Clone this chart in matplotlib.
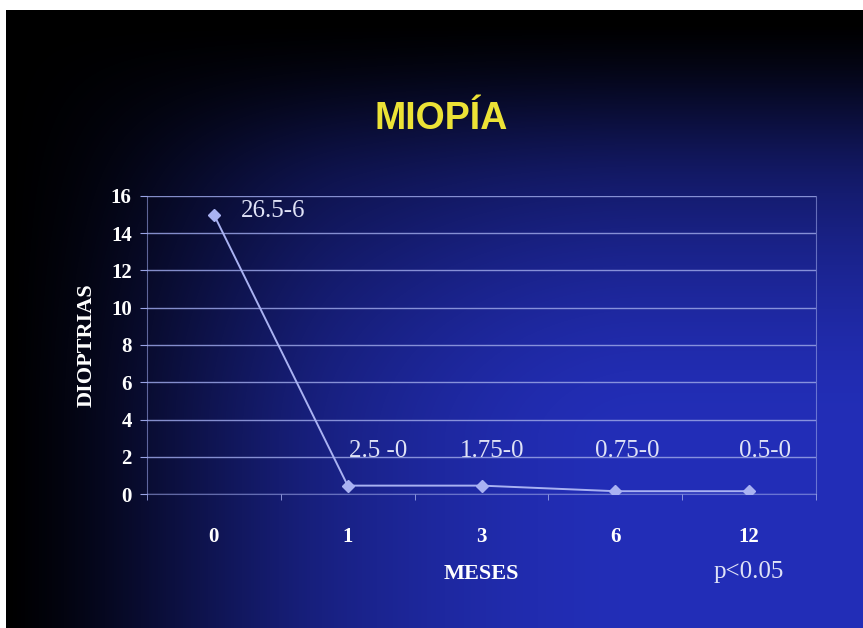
import numpy as np
import matplotlib.pyplot as plt

meses = ['0', '1', '3', '6', '12']
dioptrias = [15.0, 0.45, 0.45, 0.15, 0.15]
rangos = ['26.5-6', '2.5 -0', '1.75-0', '0.75-0', '0.5-0']
yticks = [0, 2, 4, 6, 8, 10, 12, 14, 16]


def smooth(v, a, b):
    s = np.clip((v - a) / (b - a), 0, 1)
    return s * s * (3 - 2 * s)


fig = plt.figure(figsize=(8.63, 6.28), dpi=100)
fig.patch.set_facecolor('white')

# slide background: black top-left fading to blue bottom-right
bg = fig.add_axes([6 / 863, 0, 857 / 863, 618 / 628])
h, w = 300, 420
yy, xx = np.mgrid[0:1:h * 1j, 0:1:w * 1j]
t = smooth(xx, 0.0, 0.75) * smooth(yy, 0.02, 0.7)
t = 0.15 * smooth(xx, 0.05, 0.4) * smooth(yy, 0.05, 0.3) + 0.85 * t ** 0.6
blue = np.array([0.135, 0.18, 0.72])
img = t[..., None] * blue
bg.imshow(img, aspect='auto', extent=[0, 1, 1, 0], interpolation='bilinear')
bg.set_xlim(0, 1)
bg.set_ylim(1, 0)
bg.axis('off')

ax = fig.add_axes([147 / 863, 134 / 628, 669 / 863, 298 / 628])
ax.patch.set_alpha(0)
x = np.arange(len(meses))
line_col = '#a9b2f2'
ax.plot(x, dioptrias, color=line_col, lw=1.4, marker='D', ms=6.5,
        mfc=line_col, mec=line_col, zorder=3)

ax.set_xlim(-0.5, len(meses) - 0.5)
ax.set_ylim(0, 16)
ax.set_yticks(yticks)
ax.set_xticks(x)
ax.set_xticklabels(meses)
ax.set_xticks(np.arange(len(meses) + 1) - 0.5, minor=True)

grid_col = '#9aa4e6'
ax.grid(axis='y', color=grid_col, lw=1.0, alpha=0.85)
for s in ax.spines.values():
    s.set_color(grid_col)
    s.set_alpha(0.6)
    s.set_linewidth(0.8)
ax.spines['top'].set_visible(False)

ax.tick_params(axis='y', colors=grid_col, length=5, pad=6, labelcolor='white')
ax.tick_params(axis='x', which='major', length=0, pad=24, labelcolor='white')
ax.tick_params(axis='x', which='minor', length=4, color=grid_col)
for lab in ax.get_yticklabels() + ax.get_xticklabels():
    lab.set_fontfamily('Liberation Serif')
    lab.set_fontweight('bold')
    lab.set_fontsize(15)

label_font = dict(family='Liberation Serif', weight='bold', size=16)
ax.set_ylabel('DIOPTRIAS', color='white', labelpad=10, **label_font)
ax.set_xlabel('MESES', color='white', labelpad=12, **label_font)

# data labels
label_col = '#dfe2f6'
offs = [(0.2, 15.2, 'left'), (0.23, 2.3, 'center'), (0.08, 2.3, 'center'),
        (0.09, 2.3, 'center'), (0.12, 2.3, 'center')]
for i, txt in enumerate(rangos):
    dx, ly, ha = offs[i]
    ax.text(x[i] + dx, ly, txt, color=label_col, fontsize=18,
            family='Liberation Serif', ha=ha, va='center')

ax.text(4, -4.2, 'p<0.05', color=label_col, fontsize=18,
        family='Liberation Serif', ha='center', va='center')

fig.text(441 / 863, 1 - 119 / 628, 'MIOPÍA', color='#ece236', fontsize=27,
         family='Liberation Sans', weight='bold', ha='center', va='center')

fig.savefig('out.png', dpi=100, facecolor=fig.get_facecolor())
